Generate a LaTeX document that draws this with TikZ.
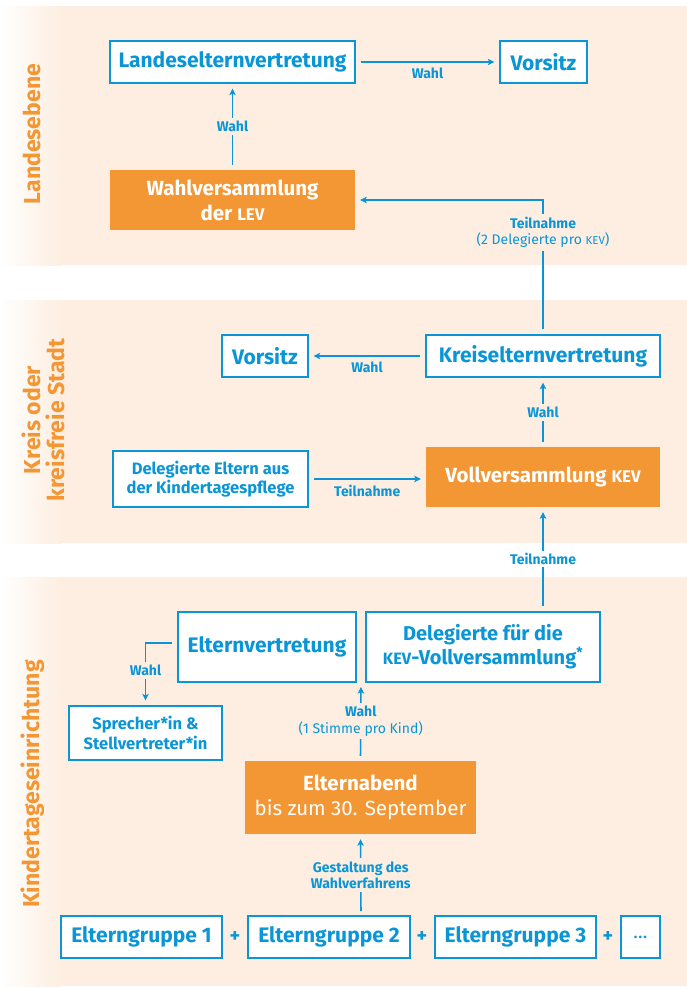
\documentclass[tikz,border=0pt]{standalone}
\usepackage{fontspec}
\usepackage{graphicx}
\setmainfont{Fira Sans}
\newfontfamily\sidefont{Fira Sans}
\usetikzlibrary{arrows.meta}
\definecolor{cblue}{HTML}{0A96D6}
\definecolor{corange}{HTML}{F39634}
\definecolor{cpeach}{HTML}{FDEEE1}
\newcommand\smc[1]{\scalebox{0.82}{#1}}
\tikzset{
  box/.style={draw=cblue, line width=1.3pt, fill=white, text=cblue, align=center, inner sep=0pt,
    font=\bfseries\fontsize{21}{24}\selectfont},
  sbox/.style={box, font=\bfseries\fontsize{16.5}{19.5}\selectfont},
  obox/.style={fill=corange, text=white, align=center, inner sep=0pt,
    font=\bfseries\fontsize{20.5}{25}\selectfont},
  conn/.style={draw=cblue, line width=1.6pt, -{Stealth[length=6.5pt,width=6.5pt,inset=1.5pt]},
    shorten >=5pt, shorten <=5pt},
  lab/.style={text=cblue, align=center, inner sep=1.5pt, font=\bfseries\fontsize{14}{16.5}\selectfont},
  labf/.style={lab, fill=cpeach, inner sep=3pt},
  labw/.style={lab, fill=white, inner sep=3pt},
  side/.style={text=corange, rotate=90, align=center, font=\sidefont\bfseries\fontsize{23}{24}\selectfont},
  plus/.style={text=cblue, font=\bfseries\fontsize{20}{22}\selectfont}
}
\begin{document}
\begin{tikzpicture}[x=1pt, y=-1pt]
\useasboundingbox (0,0) rectangle (687,988);
% bands
\foreach \a/\b in {6/265, 300/543, 577/986}{
  \shade[left color=white, right color=cpeach] (0,\a) rectangle (61,\b);
  \fill[cpeach] (60,\a) rectangle (687,\b);
}
% side labels
\node[side] (s1) at (32,134) {Landesebene};
\node[side] (s2) at (43,420) {Kreis oder\\kreisfreie Stadt};
\node[side] (s3) at (33,784) {Kindertageseinrichtung};
% band 1
\node[box, minimum width=245, minimum height=42] (lev) at (232.5,62) {Landeselternvertretung};
\node[box, minimum width=87, minimum height=42] (vor1) at (543.5,62) {Vorsitz};
\node[obox, minimum width=245, minimum height=60] (wv) at (232.5,200) {Wahlversammlung\\der \smc{LEV}};
% band 2
\node[box, minimum width=86, minimum height=42] (vor2) at (265,356) {Vorsitz};
\node[box, minimum width=234, minimum height=42] (kreis) at (543,356) {Kreiselternvertretung};
\node[obox, minimum width=234, minimum height=60] (voll) at (543,477) {Vollversammlung \smc{KEV}};
\node[sbox, minimum width=195, minimum height=56] (dep) at (210.5,479) {Delegierte Eltern aus\\der Kindertagespflege};
% band 3
\node[box, minimum width=178, minimum height=70] (ev) at (267,647) {Elternvertretung};
\node[box, minimum width=234, minimum height=70, font=\bfseries\fontsize{20}{24}\selectfont] (dkev) at (483,647) {Delegierte für die\\\smc{KEV}-Vollversammlung\textsuperscript{*}};
\node[sbox, minimum width=153, minimum height=54] (spr) at (145.5,733) {Sprecher*in \&\\Stellvertreter*in};
\node[obox, minimum width=231, minimum height=73] (abend) at (360.5,797.5) {Elternabend\\{\mdseries bis zum 30. September}};
\node[box, minimum width=161, minimum height=42] (g1) at (141.5,937) {Elterngruppe 1};
\node[box, minimum width=162, minimum height=42] (g2) at (329,937) {Elterngruppe 2};
\node[box, minimum width=161, minimum height=42] (g3) at (515.5,937) {Elterngruppe 3};
\node[box, minimum width=39, minimum height=42, font=\mdseries\fontsize{19}{22}\selectfont] (g4) at (640.5,937) {\dots};
\node[plus] (p1) at (235,937) {+};
\node[plus] (p2) at (422,937) {+};
\node[plus] (p3) at (608,937) {+};
\coordinate (evd) at (361,682);
\coordinate (grp) at (361,916);
% connectors
\draw[conn] (lev.east) -- node[lab, below=4pt] {Wahl} (vor1.west);
\draw[conn] (wv.north) -- node[labf] {Wahl} (lev.south);
\draw[conn] (kreis.north) -- node[labf, pos=0.76] {Teilnahme\\{\mdseries (2 Delegierte pro \smc{KEV})}} (kreis.north |- wv.east) -- (wv.east);
\draw[conn] (kreis.west) -- node[lab, below=4pt] {Wahl} (vor2.east);
\draw[conn] (voll.north) -- node[labf] {Wahl} (kreis.south);
\draw[conn] (dep.east) -- node[lab, below=4pt] {Teilnahme} (voll.west |- dep.east);
\draw[conn] (voll.south |- dkev.north) -- node[labw, inner ysep=2pt] {Teilnahme} (voll.south);
\draw[conn] ([yshift=4pt]ev.west) -| node[labf, pos=0.72] {Wahl} (spr.north);
\draw[conn] (abend.north) -- node[labf] {Wahl\\{\mdseries (1 Stimme pro Kind)}} (evd);
\draw[conn] (grp) -- node[labf] {Gestaltung des\\Wahlverfahrens} (abend.south);
\end{tikzpicture}
\end{document}
